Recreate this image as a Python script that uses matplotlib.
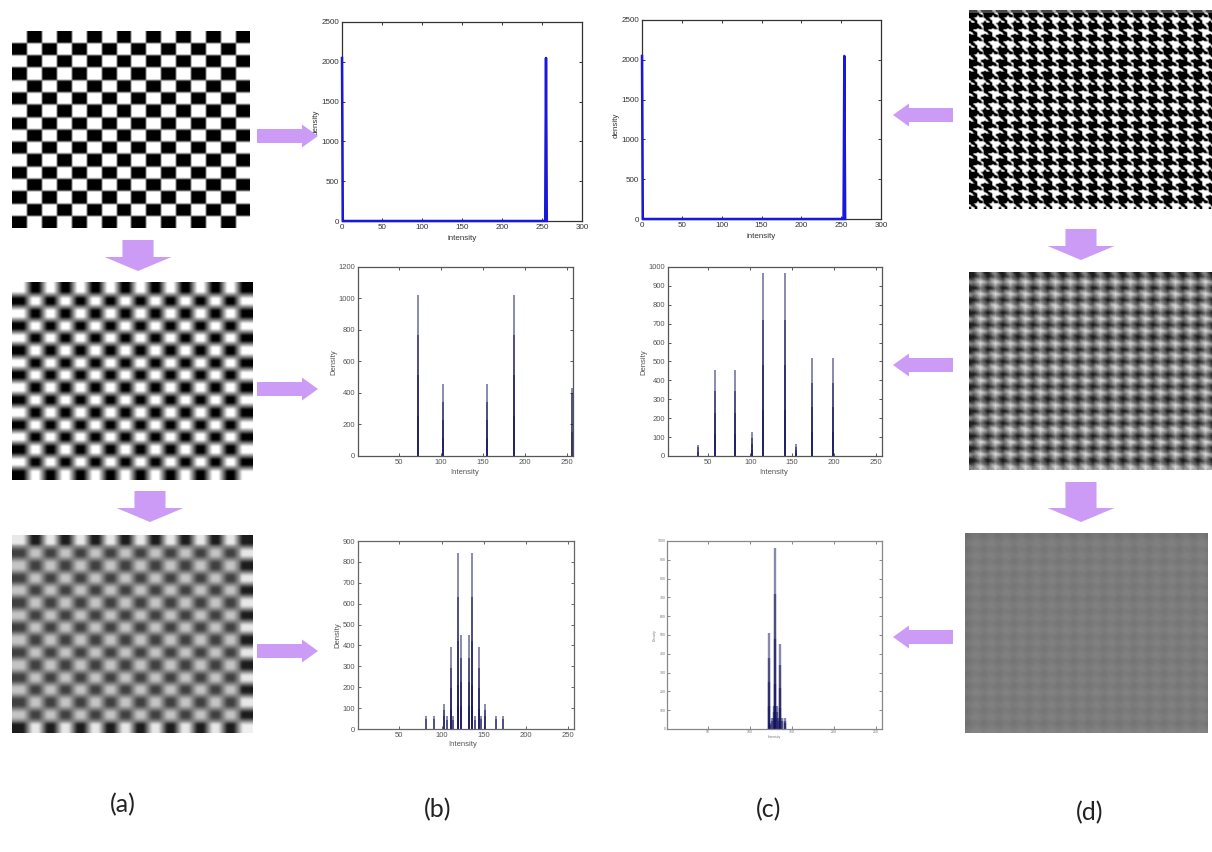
import numpy as np
import matplotlib
matplotlib.use("Agg")
import matplotlib.pyplot as plt
from matplotlib.patches import FancyArrow
from matplotlib.transforms import Affine2D

W, H = 1212, 852
plt.rcParams['font.family'] = ['Liberation Sans', 'DejaVu Sans']

# ---- histogram data (intensity positions, stacked stem heights) ----
top_x_b = [0, 1, 2, 253, 254, 255, 256]
top_y_b = [2048, 0, 0, 0, 0, 2048, 0]
top_x_c = [0, 1, 2, 252, 253, 254, 255]
top_y_c = [2048, 0, 0, 0, 0, 2048, 0]

b2_x = [1, 72, 102, 155, 187, 256]
b2_h = [[290, 150], [1024, 768, 512, 256], [456, 342, 228, 114],
        [456, 342, 228, 114], [1024, 768, 512, 256], [430, 400, 150]]

c2_x = [38, 58, 82, 102, 115, 142, 155, 174, 199]
c2_h = [[60, 45, 20], [456, 342, 228, 114], [456, 342, 228, 114],
        [128, 96, 64, 32], [968, 720, 484, 242], [968, 720, 484, 242],
        [64, 48, 32, 16], [516, 387, 258, 129], [516, 387, 258, 129]]

b3_x = [82, 91, 103, 107, 111, 114, 119, 123, 132, 136, 140, 144, 147, 152, 164, 173]
b3_h = [[64, 48], [64, 48], [120, 90, 60], [60, 45], [392, 294, 196, 98],
        [60, 45], [844, 633, 422, 211, 112], [450, 338, 225, 112],
        [450, 338, 225, 112], [844, 633, 422, 211, 112], [60, 45],
        [392, 294, 196, 98], [64, 48], [120, 90, 60], [64, 48], [64, 48]]

c3_x = [122, 124, 126, 128, 130, 132, 134, 136, 138, 141]
c3_h = [[510, 380, 250, 120], [30, 20], [60, 40], [120, 90, 60],
        [963, 720, 480, 240, 120], [120, 90, 60], [60, 40],
        [450, 340, 220, 110], [60, 40], [60, 45, 30]]

y_top = [0, 500, 1000, 1500, 2000, 2500]
x_top = [0, 50, 100, 150, 200, 250, 300]
x_low = [50, 100, 150, 200, 250]
y_b2 = [0, 200, 400, 600, 800, 1000, 1200]
y_c2 = [0, 100, 200, 300, 400, 500, 600, 700, 800, 900, 1000]
y_b3 = [0, 100, 200, 300, 400, 500, 600, 700, 800, 900]
y_c3 = [0, 100, 200, 300, 400, 500, 600, 700, 800, 900, 1000]

# ---- image tiles (grey levels) ----
checker_tile = np.array([[255, 0], [0, 255]], dtype=float)
hound_tile = np.array([[0, 0, 0, 0, 255, 255, 0, 0],
                       [0, 0, 0, 0, 0, 255, 255, 0],
                       [0, 0, 0, 0, 0, 0, 255, 255],
                       [0, 0, 0, 0, 255, 0, 0, 255],
                       [0, 0, 255, 255, 255, 255, 255, 255],
                       [255, 0, 0, 255, 255, 255, 255, 255],
                       [255, 255, 0, 0, 255, 255, 255, 255],
                       [0, 255, 255, 0, 255, 255, 255, 255]], dtype=float)

labels = ["(a)", "(b)", "(c)", "(d)"]
label_xy = [(123, 805), (438, 810), (769, 810), (1090, 813)]

PURPLE = "#CB9BF6"
BLUE = "#1818dc"
NAVY = "#14145e"


def raster(tile, w, h, period_w, period_h):
    rows, cols = tile.shape
    yi = (np.arange(h) * rows / period_h).astype(int) % rows
    xi = (np.arange(w) * cols / period_w).astype(int) % cols
    return tile[np.ix_(yi, xi)]


def smooth(a, ky, kx):
    ky = np.array(ky, float) / np.sum(ky)
    kx = np.array(kx, float) / np.sum(kx)
    ny, nx = len(ky) // 2, len(kx) // 2
    p = np.pad(a, ((ny, ny), (nx, nx)), mode="edge")
    p = np.apply_along_axis(lambda v: np.convolve(v, ky, mode="same"), 0, p)
    p = np.apply_along_axis(lambda v: np.convolve(v, kx, mode="same"), 1, p)
    return p[ny:p.shape[0] - ny, nx:p.shape[1] - nx]


fig = plt.figure(figsize=(W / 100, H / 100), dpi=100)
px = Affine2D().scale(1 / W, -1 / H).translate(0, 1) + fig.transFigure


def box(l, t, r, b, **kw):
    return fig.add_axes([l / W, 1 - b / H, (r - l) / W, (b - t) / H], **kw)


def show(rect, arr):
    ax = box(*rect)
    ax.imshow(arr, cmap="gray", vmin=0, vmax=255, aspect="auto", interpolation="bilinear")
    ax.axis("off")


# ---- images ----
a1 = smooth(raster(checker_tile, 238, 197, 29.75, 24.6), [1, 2, 1], [1, 2, 1])
show((12, 31, 250, 228), a1)

a_base = raster(checker_tile, 241, 198, 30.1, 24.75)
a2 = smooth(a_base, [1] * 7, [1] * 9)
a2 = smooth(a2, [1, 2, 1], [1, 2, 1])
show((12, 282, 253, 480), a2)

a3 = np.array(a2)
gain = np.full(a3.shape, 0.52)
gain[:11, :] = 0.8
gain[-11:, :] = 0.8
gain[:, -13:] = 0.8
a3 = 130 + (a3 - 127.5) * gain
a3[-8:, -10:] = 240
a3 = smooth(a3, [1, 2, 1], [1, 2, 1])
show((12, 535, 253, 733), a3)

d_base = raster(hound_tile, 243, 199, 15.0, 12.4)
d1 = smooth(d_base, [1, 2, 1], [1, 2, 1])
d1 = np.clip((d1 - 70) * 1.45, 0, 255)
d1[:3, :] = 0.45 * d1[:3, :] + 70
show((969, 10, 1212, 209), d1)

d2 = smooth(d_base, [1] * 5, [1] * 7)
d2 = 122 + (d2 - 127.5) * 0.72
show((969, 272, 1212, 470), d2)

d3 = smooth(d_base, [1] * 9, [1] * 11)
d3 = 124 + (d3 - 127.5) * 0.11
show((965, 533, 1208, 733), d3)


# ---- histograms ----
def hist_axes(rect, xlim, ylim, xt, yt, spine, tc, fs, xl, yl, xlabel, ylabel, pad=2):
    ax = box(*rect)
    ax.set_xlim(*xlim)
    ax.set_ylim(*ylim)
    ax.set_xticks(xt)
    ax.set_yticks(yt)
    ax.tick_params(direction="in", top=True, right=True, length=2.2, width=0.7,
                   labelsize=fs, pad=pad, colors=spine, labelcolor=tc)
    for s in ax.spines.values():
        s.set_color(spine)
        s.set_linewidth(0.9)
    ax.set_xlabel(xlabel, fontsize=fs, color=tc, va="center", ha="center")
    ax.set_ylabel(ylabel, fontsize=fs, color=tc, va="center", ha="center")
    ax.xaxis.set_label_coords(*xl, transform=px)
    ax.yaxis.set_label_coords(*yl, transform=px)
    return ax


def stems(ax, xs, hs, lw=1.4):
    for x, levels in zip(xs, hs):
        for h in levels:
            ax.vlines(x, 0, h, color=NAVY, alpha=0.5, lw=lw)


ax = hist_axes((342, 22, 582, 221), (0, 300), (0, 2500), x_top, y_top, "#333333", "#333333",
               5.8, (462, 238), (316, 122), "intensity", "density")
ax.plot(top_x_b, top_y_b, color=BLUE, lw=1.8, clip_on=False, zorder=3)

ax = hist_axes((642, 20, 881, 219), (0, 300), (0, 2500), x_top, y_top, "#333333", "#333333",
               5.8, (761, 236), (616, 125), "intensity", "density")
ax.plot(top_x_c, top_y_c, color=BLUE, lw=1.8, clip_on=False, zorder=3)

ax = hist_axes((358, 267, 573, 456), (1, 257), (0, 1200), x_low, y_b2, "#555555", "#555555",
               5.5, (465, 472), (334, 362), "Intensity", "Density")
stems(ax, b2_x, b2_h)

ax = hist_axes((668, 267, 882, 456), (2, 257), (0, 1000), x_low, y_c2, "#555555", "#555555",
               5.5, (774, 472), (644, 362), "Intensity", "Density")
stems(ax, c2_x, c2_h)

ax = hist_axes((358, 541, 574, 729), (1, 257), (0, 900), x_low, y_b3, "#666666", "#555555",
               5.5, (463, 745), (338, 635), "Intensity", "Density")
stems(ax, b3_x, b3_h)

ax = hist_axes((667, 541, 882, 729), (1, 257), (0, 1000), x_low, y_c3, "#888888", "#777777",
               2.5, (774, 737), (655, 635), "Intensity", "Density", pad=1)
stems(ax, c3_x, c3_h, lw=1.7)

# ---- arrows and panel captions on a pixel overlay ----
ov = fig.add_axes([0, 0, 1, 1], zorder=5)
ov.set_xlim(0, W)
ov.set_ylim(H, 0)
ov.axis("off")
ov.patch.set_alpha(0)
for (x, y, dx, dy) in [(257, 136, 61, 0), (257, 389, 61, 0), (257, 651, 61, 0),
                       (953, 115, -60, 0), (953, 365, -60, 0), (953, 637, -60, 0),
                       (138, 240, 0, 31), (150, 491, 0, 31),
                       (1081, 229, 0, 31), (1081, 482, 0, 40)]:
    horizontal = dy == 0
    ov.add_patch(FancyArrow(x, y, dx, dy, width=14 if horizontal else 31,
                            head_width=23 if horizontal else 67,
                            head_length=16 if horizontal else 14,
                            length_includes_head=True, color=PURPLE, lw=0))

for text, (x, y) in zip(labels, label_xy):
    ov.text(x, y, text, fontsize=18, family=["Lato", "DejaVu Sans"], color="#222222",
            ha="center", va="center")

fig.savefig("out.png", dpi=100)
